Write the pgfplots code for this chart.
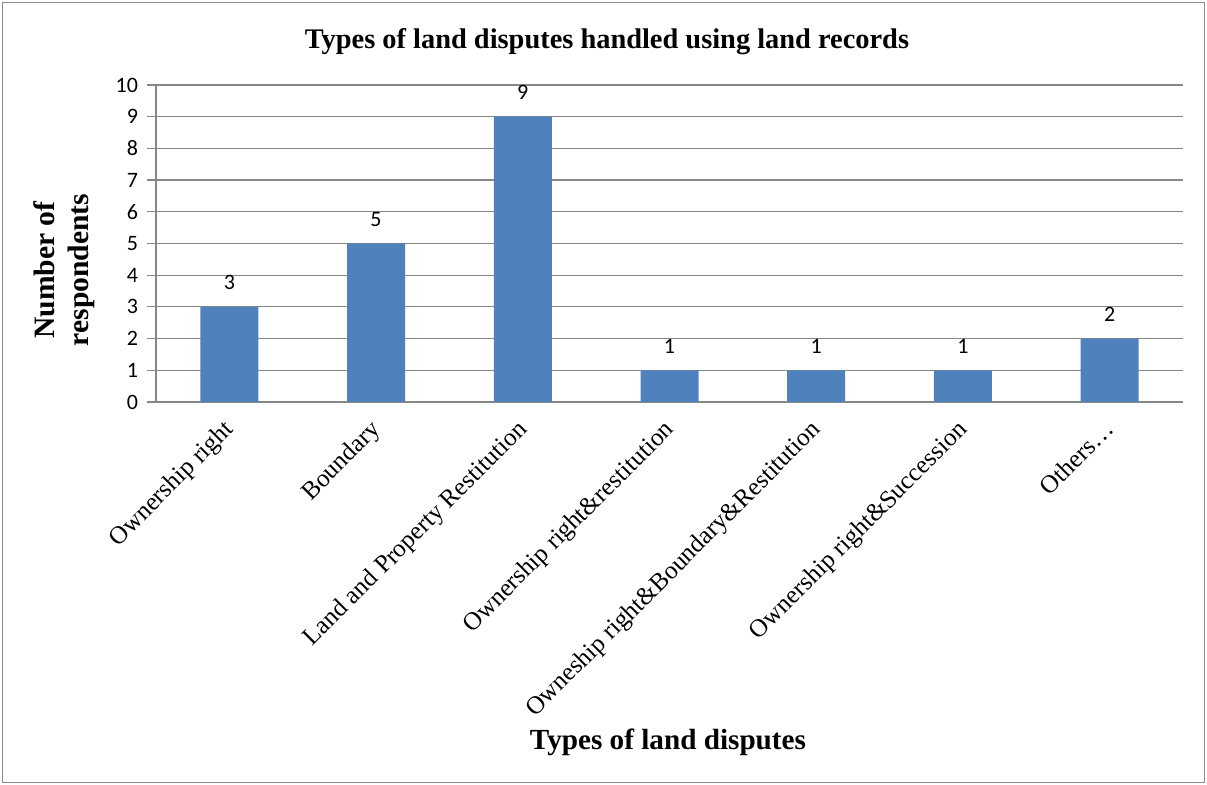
\documentclass[border=0pt]{standalone}
\usepackage{fontspec}
\setmainfont{Liberation Serif}
\newfontfamily\calibri{Carlito}
\usepackage{pgfplots}
\pgfplotsset{compat=1.18}
\definecolor{barblue}{HTML}{4F81BD}
\definecolor{gridgray}{HTML}{878787}
\begin{document}
\begin{tikzpicture}[x=1pt,y=1pt]
\fill[white] (0,0) rectangle (603.5,392.5);
\useasboundingbox (0,0) rectangle (603.5,392.5);
\draw[black!45, line width=0.8pt] (1.2,1.2) rectangle (602.3,391.3);
\begin{axis}[
  at={(78pt,191.5pt)}, anchor=south west,
  scale only axis, width=513.5pt, height=158.5pt,
  ymin=0, ymax=10, ytick={0,1,...,10},
  xmin=-0.5, xmax=6.5, xtick={0,1,...,6},
  xticklabels={Ownership right, Boundary, Land and Property Restitution, Ownership right\&restitution, Owneship right\&Boundary\&Restitution, Ownership right\&Succession, Others\dots},
  axis x line*=bottom, axis y line*=left,
  axis line style={gridgray, line width=0.6pt, -},
  ymajorgrids, grid style={gridgray, line width=0.6pt},
  tick align=outside, major tick length=4.5pt,
  ytick style={gridgray, line width=0.6pt},
  xtick style={draw=none},
  /pgf/number format/assume math mode=true,
  yticklabel style={font=\calibri\fontsize{11}{13}\selectfont, xshift=-1pt},
  xticklabel style={font=\fontsize{12.6}{14}\selectfont, inner sep=0pt, xshift=-3.5pt, yshift=-3.5pt, rotate=45, anchor=north east},
  ybar, bar width=29pt,
  nodes near coords,
  nodes near coords style={font=\calibri\fontsize{11}{13}\selectfont, anchor=south, yshift=5pt},
  clip=false,
]
\addplot[fill=barblue, draw=none] coordinates {(0,3) (1,5) (2,9) (3,1) (4,1) (5,1) (6,2)};
\end{axis}
\node[font=\bfseries\fontsize{14.2}{16}\selectfont] at (303.5,371.5) {Types of land disputes handled using land records};
\node[font=\bfseries\fontsize{14.8}{17}\selectfont, rotate=90, align=center] at (32,257.5) {Number of\\respondents};
\node[font=\bfseries\fontsize{14.6}{16}\selectfont] at (334,21.5) {Types of land disputes};
\end{tikzpicture}
\end{document}
